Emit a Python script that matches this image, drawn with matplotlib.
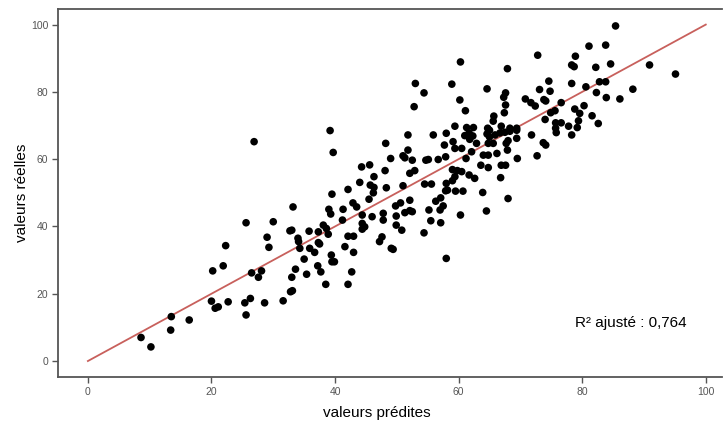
import matplotlib
matplotlib.use("Agg")
import matplotlib.pyplot as plt

predites = [
    53.0, 52.8, 54.4, 58.9, 60.3, 60.2, 61.1, 59.4, 61.3, 62.4, 64.6, 64.7, 65.0, 65.7, 65.6, 66.9, 67.4,
    67.6, 67.3, 67.6, 67.9, 72.8, 70.8, 71.7, 72.4, 73.1, 73.8, 74.1, 74.6, 74.8, 74.9, 75.6, 76.6,
    74.0, 75.7, 76.6, 75.7, 68.3, 69.4,
    85.4, 81.1, 83.8, 78.9, 78.3, 78.7, 82.2, 84.6, 90.9, 95.1, 78.3, 80.6, 82.8, 83.8, 82.3, 83.9,
    86.1, 88.2, 78.8, 79.6, 80.3, 81.6, 79.4, 82.6, 77.8, 79.2, 78.3,
    26.9, 25.6, 30.0, 29.0,
    39.2, 51.8, 39.7, 48.2, 51.0, 51.3, 51.8, 49.0, 52.5, 44.3, 45.6, 48.1, 46.3, 44.0, 52.1, 52.9,
    51.0, 45.7, 46.3, 46.2, 48.3, 42.1, 39.5, 45.5, 42.9, 43.5, 41.3, 39.0, 39.3, 33.2, 44.4, 46.0,
    47.8, 49.8, 50.6, 51.3, 52.1, 52.1, 52.5, 49.9, 41.2, 38.1, 38.6, 44.4, 44.8, 44.4, 47.8, 49.9,
    50.8, 32.7, 33.0, 35.8, 37.3, 38.9, 42.1, 43.0, 47.6, 34.0,
    55.9, 58.0, 61.0, 61.7, 62.3, 61.8, 62.9, 64.6, 65.0, 65.9, 66.7, 67.5, 68.3, 69.4, 64.8, 65.6,
    68.0, 67.7, 69.4, 71.8, 75.8, 73.7, 74.1, 57.7, 59.1, 59.4, 60.5, 62.1, 64.0, 64.8, 66.2, 67.9,
    69.5, 72.7, 54.7, 55.1, 56.7, 57.9, 61.2, 63.6, 64.8, 66.9, 67.6, 59.0, 59.8, 60.5, 61.7, 62.6,
    59.4, 59.0, 66.8, 54.5, 55.6, 58.0, 57.9, 58.2, 59.5, 60.7, 63.9, 68.0, 57.1, 56.3, 57.5, 57.0,
    55.2, 64.5, 60.3, 55.5, 57.1, 54.4,
    22.3, 29.3, 21.9, 20.2, 26.5, 28.1, 27.6, 20.0, 20.6, 21.1, 22.7, 25.4, 26.3, 25.6, 28.6, 13.5,
    16.4, 13.4, 8.6, 10.2,
    34.1, 34.3, 37.3, 37.5, 35.9, 36.7, 39.4, 39.5, 39.9, 41.6, 43.0, 47.2, 49.1, 49.4, 35.0, 33.6,
    33.0, 37.2, 37.7, 35.4, 42.7, 38.5, 42.1, 32.8, 33.1, 31.6,
    58.0,
]
reelles = [
    82.5, 75.6, 79.7, 82.3, 88.9, 77.6, 74.4, 69.8, 69.4, 69.4, 80.9, 69.2, 68.6, 72.8, 71.3, 69.8, 73.8,
    76.1, 78.4, 79.7, 86.9, 90.9, 77.9, 76.8, 75.8, 80.7, 77.7, 77.3, 83.2, 80.2, 73.8, 74.4, 76.8,
    71.8, 70.8, 70.8, 69.2, 69.2, 69.2,
    99.6, 93.6, 93.9, 90.6, 88.0, 87.5, 87.3, 88.3, 88.0, 85.3, 82.5, 81.5, 83.0, 83.0, 79.8, 78.3,
    77.9, 80.8, 74.9, 73.6, 75.9, 72.9, 71.4, 70.6, 69.8, 69.4, 67.2,
    65.2, 41.1, 41.4, 36.8,
    68.5, 67.2, 62.0, 64.7, 61.0, 60.4, 62.7, 60.2, 59.7, 57.7, 58.3, 56.6, 54.8, 53.1, 55.8, 56.6,
    52.1, 52.3, 51.6, 50.0, 51.5, 51.0, 49.6, 48.1, 47.0, 45.8, 45.1, 45.1, 43.7, 45.8, 43.4, 42.9,
    43.9, 46.1, 47.0, 44.1, 47.8, 44.7, 44.4, 43.1, 41.9, 40.4, 39.4, 40.9, 39.9, 39.2, 41.9, 40.4,
    38.9, 38.7, 38.9, 38.6, 38.4, 37.7, 37.1, 37.1, 36.9, 36.5,
    67.2, 67.7, 67.0, 67.8, 66.9, 65.9, 64.7, 67.5, 66.6, 67.2, 67.8, 68.0, 68.3, 68.6, 64.7, 64.7,
    65.5, 64.7, 66.2, 67.2, 67.9, 64.9, 64.2, 64.2, 65.2, 63.2, 63.2, 62.2, 61.2, 61.2, 61.7, 62.7,
    60.2, 61.0, 59.7, 59.9, 59.9, 60.7, 60.2, 58.2, 57.5, 58.2, 58.2, 56.9, 56.6, 56.3, 55.3, 54.3,
    54.8, 53.6, 54.5, 52.6, 52.6, 52.8, 50.6, 50.8, 50.5, 50.5, 50.1, 48.3, 48.5, 47.5, 46.1, 44.9,
    44.9, 44.6, 43.4, 41.7, 41.1, 38.1,
    34.3, 33.8, 28.3, 26.8, 26.2, 26.8, 24.9, 17.8, 15.7, 16.1, 17.6, 17.3, 18.6, 13.7, 17.3, 13.2,
    12.2, 9.2, 7.0, 4.2,
    35.5, 33.5, 35.2, 34.8, 33.5, 32.3, 31.5, 29.5, 29.5, 34.0, 32.3, 35.5, 33.5, 33.2, 30.3, 27.3,
    24.9, 28.3, 26.5, 25.8, 26.5, 22.8, 22.8, 20.6, 20.9, 17.9,
    30.5,
]
droite_x = [0, 100]
droite_y = [0, 100]
x_ticks = [0, 20, 40, 60, 80, 100]
y_ticks = [0, 20, 40, 60, 80, 100]
r2_label = "R² ajusté : 0,764"

plt.rcParams['font.family'] = ['Liberation Sans', 'DejaVu Sans']
fig = plt.figure(figsize=(7.24, 4.22), dpi=100)
ax = fig.add_axes([0.080, 0.1066, 0.917, 0.871])

ax.plot(droite_x, droite_y, color='#c8605c', lw=1.3, zorder=1)
ax.scatter(predites, reelles, s=30, color='black', edgecolors='none', zorder=2)

ax.set_xlim(-4.85, 102.6)
ax.set_ylim(-4.75, 104.5)
ax.set_xticks(x_ticks)
ax.set_yticks(y_ticks)
ax.tick_params(axis='both', direction='out', length=4, width=1, color='#555555',
               labelcolor='#555555', labelsize=7.5, pad=3)
for s in ax.spines.values():
    s.set_color('#555555')
    s.set_linewidth(1.3)
ax.spines['right'].set_visible(False)

ax.set_xlabel('valeurs prédites', fontsize=11)
ax.xaxis.set_label_coords(0.48, -0.08)
ax.set_ylabel('valeurs réelles', fontsize=11)
ax.yaxis.set_label_coords(-0.043, 0.5)
ax.text(78.8, 11.3, r2_label, fontsize=11, ha='left', va='center')

fig.savefig('out.png', dpi=100)
